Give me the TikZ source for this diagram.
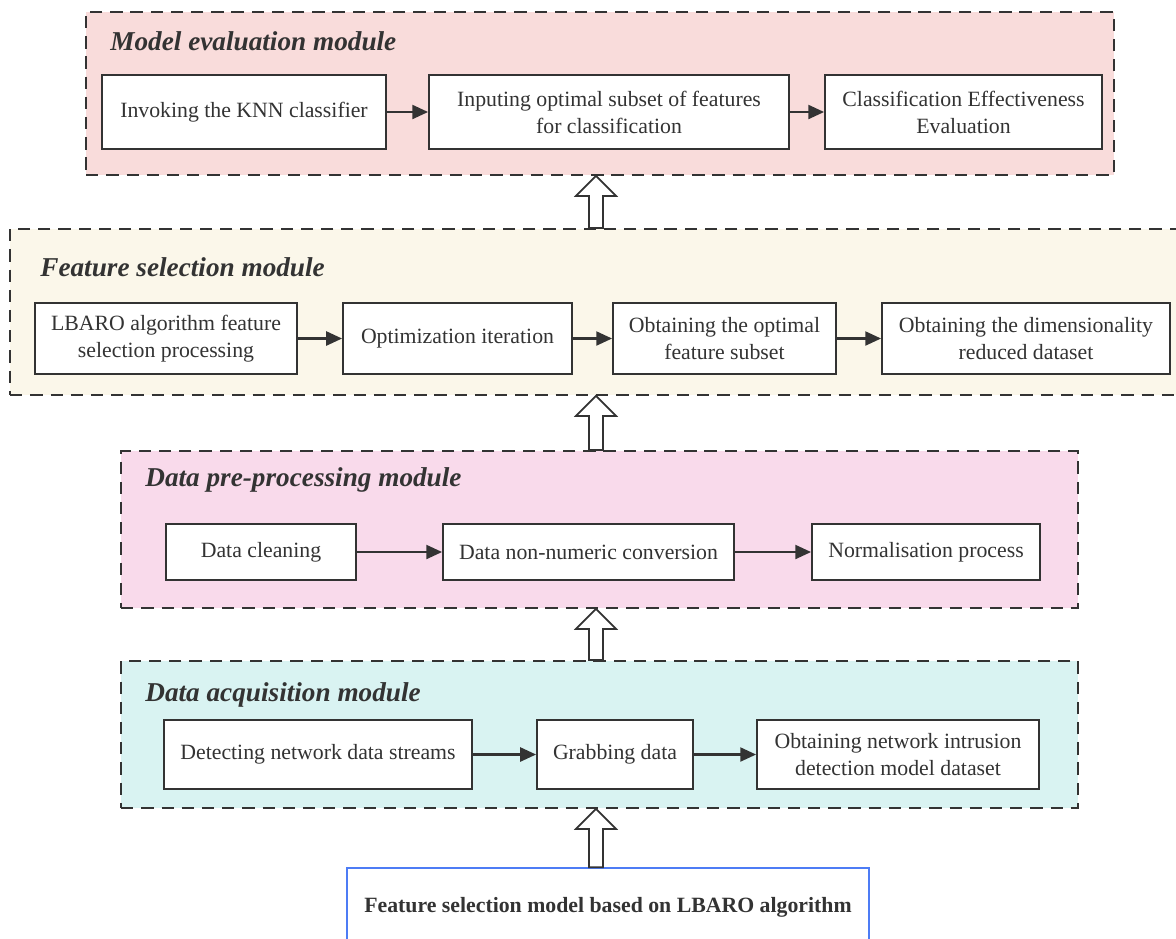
\documentclass[tikz,border=0pt]{standalone}
\usepackage{fontspec}
\setmainfont{Liberation Serif}
\usetikzlibrary{arrows.meta,calc}

\definecolor{inkgray}{HTML}{333333}
\definecolor{evalfill}{HTML}{F9DCDB}
\definecolor{featfill}{HTML}{FBF7EA}
\definecolor{prefill}{HTML}{F9DAEB}
\definecolor{acqfill}{HTML}{D9F3F2}
\definecolor{modelblue}{HTML}{4D7CF5}

% hollow up arrow between two modules: #1 base, #2 tip
\newcommand{\blockup}[2]{%
  \draw[blockarrow] ($(#1)+(-7,0)$) -- ($(#2)+(-7,20)$) -- ($(#2)+(-20,20)$) -- (#2)
    -- ($(#2)+(20,20)$) -- ($(#2)+(7,20)$) -- ($(#1)+(7,0)$) -- cycle;}

\begin{document}
\begin{tikzpicture}[x=0.02cm,y=-0.02cm,
	module/.style={draw=inkgray,line width=1.1pt,dash pattern=on 7pt off 4.5pt,inner sep=0pt},
	modtitle/.style={anchor=base west,inner sep=0pt,text=inkgray,font=\fontsize{15.5}{18}\selectfont\bfseries\itshape},
	procbox/.style={draw=inkgray,line width=1.1pt,fill=white,align=center,inner sep=0pt,text=inkgray,font=\fontsize{12.4}{15.4}\selectfont},
	flow/.style={draw=inkgray,line width=1.2pt,-{Triangle[length=9pt,width=8pt]}},
	blockarrow/.style={draw=inkgray,line width=1pt,fill=white,line join=miter}]
	\clip (0,0) rectangle (1176,938);
	\coordinate (axis) at (596,0);

	%modules
	\node[module,fill=evalfill,minimum width=20.56cm,minimum height=3.26cm] (eval) at (600,93.5) {};
	\node[module,fill=featfill,minimum width=23.6cm,minimum height=3.32cm] (feat) at (600,312) {};
	\node[module,fill=prefill,minimum width=19.14cm,minimum height=3.14cm] (prep) at (599.5,529.5) {};
	\node[module,fill=acqfill,minimum width=19.14cm,minimum height=2.94cm] (acq) at (599.5,734.5) {};

	%module titles
	\node[modtitle] (evaltitle) at (110,50) {Model evaluation module};
	\node[modtitle] (feattitle) at (40,276) {Feature selection module};
	\node[modtitle] (preptitle) at (145,486) {Data pre-processing module};
	\node[modtitle] (acqtitle) at (145,701) {Data acquisition module};

	%model evaluation
	\node[procbox,minimum width=5.68cm,minimum height=1.48cm] (knn) at (244,112) {Invoking the KNN classifier};
	\node[procbox,minimum width=7.2cm,minimum height=1.48cm] (inputs) at (609,112) {Inputing optimal subset of features\\for classification};
	\node[procbox,minimum width=5.54cm,minimum height=1.48cm] (effect) at (963.5,112) {Classification Effectiveness\\Evaluation};

	%feature selection
	\node[procbox,minimum width=5.24cm,minimum height=1.42cm] (lbaro) at (166,338.5) {LBARO algorithm feature\\selection processing};
	\node[procbox,minimum width=4.58cm,minimum height=1.42cm] (optim) at (457.5,338.5) {Optimization iteration};
	\node[procbox,minimum width=4.46cm,minimum height=1.42cm] (optsub) at (724.5,338.5) {Obtaining the optimal\\feature subset};
	\node[procbox,minimum width=5.76cm,minimum height=1.42cm] (dimred) at (1026,338.5) {Obtaining the dimensionality\\reduced dataset};

	%pre-processing
	\node[procbox,minimum width=3.8cm,minimum height=1.12cm] (clean) at (261,552) {Data cleaning};
	\node[procbox,minimum width=5.82cm,minimum height=1.12cm] (nonnum) at (588.5,552) {Data non-numeric conversion};
	\node[procbox,minimum width=4.56cm,minimum height=1.12cm] (norm) at (926,552) {Normalisation process};

	%acquisition
	\node[procbox,minimum width=6.16cm,minimum height=1.38cm] (detect) at (318,754.5) {Detecting network data streams};
	\node[procbox,minimum width=3.12cm,minimum height=1.38cm] (grab) at (615,754.5) {Grabbing data};
	\node[procbox,minimum width=5.64cm,minimum height=1.38cm] (intrude) at (898,754.5) {Obtaining network intrusion\\detection model dataset};

	%model box
	\node[draw=modelblue,line width=0.8pt,fill=white,minimum width=10.44cm,minimum height=1.56cm,text=inkgray,font=\fontsize{12.4}{15.4}\selectfont\bfseries] (model) at (608,907) {Feature selection model based on LBARO algorithm};

	%flow arrows
	\draw[flow] (knn) -- (inputs);
	\draw[flow] (inputs) -- (effect);
	\draw[flow] (lbaro) -- (optim);
	\draw[flow] (optim) -- (optsub);
	\draw[flow] (optsub) -- (dimred);
	\draw[flow] (clean) -- (nonnum);
	\draw[flow] (nonnum) -- (norm);
	\draw[flow] (detect) -- (grab);
	\draw[flow] (grab) -- (intrude);

	%block arrows
	\blockup{model.north -| axis}{acq.south -| axis}
	\blockup{acq.north -| axis}{prep.south -| axis}
	\blockup{prep.north -| axis}{feat.south -| axis}
	\blockup{feat.north -| axis}{eval.south -| axis}
\end{tikzpicture}
\end{document}
